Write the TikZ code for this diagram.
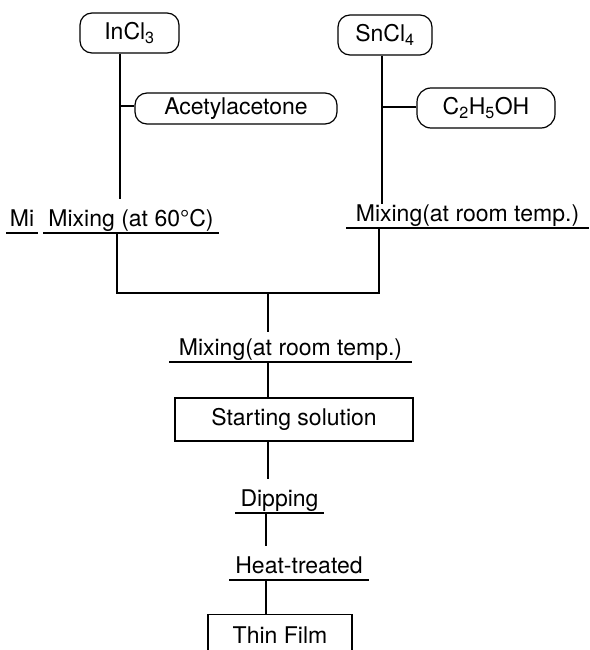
\documentclass[tikz,border=0pt]{standalone}
\usepackage{fontspec}
\setmainfont{TeX Gyre Heros}
\begin{document}
\begin{tikzpicture}[x=1pt,y=-1pt,line width=1.2pt,
  font=\fontsize{23}{27}\selectfont,
  rbox/.style={draw,rounded corners=12pt,inner sep=0pt,minimum height=40pt},
  sbox/.style={draw,inner sep=0pt},
  ulab/.style={inner xsep=0pt,inner ysep=1pt,text height=26pt,text depth=5pt,anchor=south,
    append after command={(\tikzlastnode.south west) edge[draw] (\tikzlastnode.south east)}}]
\useasboundingbox (0,0) rectangle (589,650);
\clip (0,0) rectangle (589,650);
% source boxes
\node[rbox,minimum width=99pt] (in) at (129.5,33) {InCl\textsubscript{3}};
\node[rbox,minimum width=94pt] (sn) at (385,35) {SnCl\textsubscript{4}};
\node[rbox,minimum width=202pt,minimum height=31pt] (acet) at (236,108.5) {Acetylacetone};
\node[rbox,minimum width=138pt,rounded corners=14pt] (eth) at (486,108) {C\textsubscript{2}H\textsubscript{5}OH};
% underlined step labels
\node[ulab,minimum width=30pt] (mi) at (22,233) {Mi};
\node[ulab,minimum width=174pt] (mixL) at (131,233) {Mixing (at 60°C)};
\node[ulab,minimum width=241pt] (mixR) at (467.5,228) {Mixing(at room temp.)};
\node[ulab,minimum width=241pt] (mixC) at (290.5,362) {Mixing(at room temp.)};
\node[ulab,minimum width=87pt] (dip) at (279.5,513) {Dipping};
\node[ulab,minimum width=138pt] (heat) at (299,580) {Heat-treated};
% boxes
\node[sbox,minimum width=238pt,minimum height=43pt] (start) at (294,419.5) {Starting solution};
\node[sbox,minimum width=144pt,anchor=north,inner ysep=12pt,text height=17pt,text depth=30pt] (film) at (280,614) {Thin Film};
% guide coordinates
\coordinate (xl) at (120,0);
\coordinate (xl2) at (117,0);
\coordinate (xr) at (382,0);
\coordinate (xr2) at (379,0);
\coordinate (xc) at (268,0);
\coordinate (xc2) at (266,0);
\coordinate (j) at (268,293);
% connectors
\draw (in.south -| xl) -- (mixL.north -| xl);
\draw (acet.west |- 0,106) -- (xl |- 0,106);
\draw (sn.south -| xr) -- ([yshift=-10pt]mixR.north -| xr);
\draw (eth.west |- 0,107) -- (xr |- 0,107);
\draw (mixL.south -| xl2) |- (j) -| (mixR.south -| xr2);
\draw (j) -- ([yshift=-4pt]mixC.north -| xc);
\draw (mixC.south -| xc) -- (start.north -| xc);
\draw (start.south -| xc) -- (dip.north -| xc);
\draw (dip.south -| xc2) -- (heat.north -| xc2);
\draw (heat.south -| xc2) -- (film.north -| xc2);
\end{tikzpicture}
\end{document}
